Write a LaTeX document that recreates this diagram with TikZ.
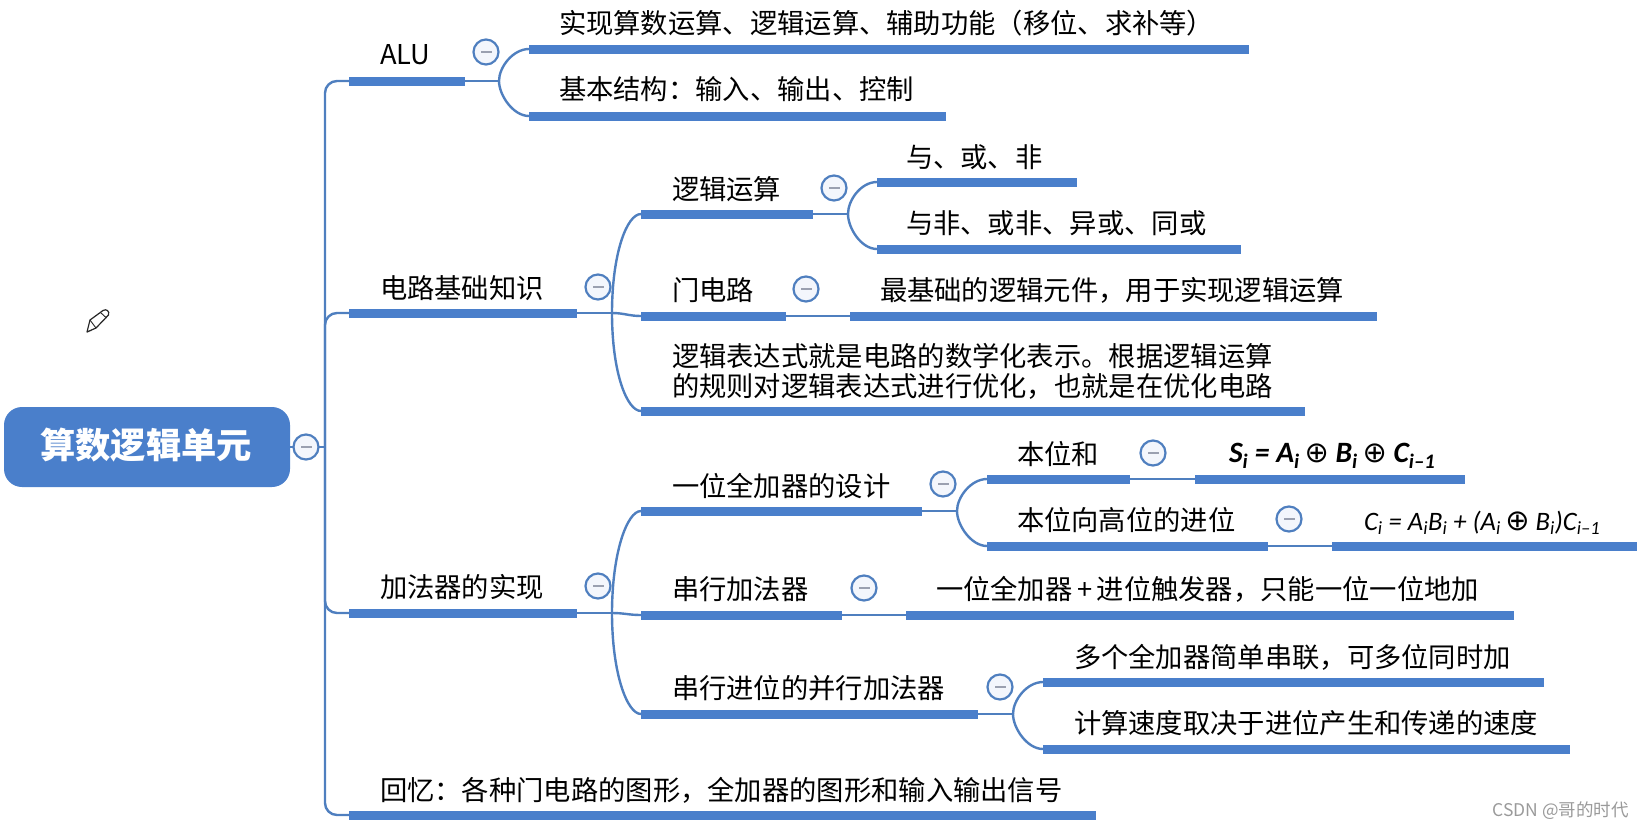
\documentclass[tikz,border=0pt]{standalone}
\usepackage{fontspec}
\setmainfont{Noto Sans CJK SC}
\newfontfamily\formfont{Carlito}
\newfontfamily\symfont{DejaVu Sans}
\usetikzlibrary{calc}
\definecolor{mapblue}{HTML}{4A7FCB}
\definecolor{linkblue}{HTML}{4F7FBF}
\definecolor{dashgray}{HTML}{9AA0B0}
\definecolor{markgray}{HTML}{9A9A9A}
\definecolor{foldfill}{HTML}{F3F6FC}
\tikzset{
  barline/.style={fill=mapblue,draw=none,minimum height=9pt,inner sep=0pt,outer sep=0pt,anchor=west,rectangle},
  label/.style={anchor=west,inner sep=0pt,outer sep=0pt,xshift=-1pt,yshift=-7.4pt,font=\fontsize{27.3pt}{30pt}\selectfont,text=black,text height=.88em,text depth=.12em},
  conn/.style={draw=linkblue,line width=2.4pt},
  fold/.style={circle,draw=linkblue,line width=2.2pt,fill=foldfill,minimum size=25pt,inner sep=0pt,
    path picture={\fill[dashgray] ($(path picture bounding box.center)+(-5.5pt,-1.4pt)$) rectangle ($(path picture bounding box.center)+(5.5pt,1.4pt)$);}},
}
% \topic{name}{x left}{x right}{bar y}{text x}{text y}{text}
\newcommand{\topic}[7]{%
  \node[barline,minimum width={(#3-#2)*1pt}] (#1) at (#2,#4) {};
  \node[label] (#1-t) at (#5,#6) {#7};}
\newcommand{\fm}[1]{{\symfont\mdseries\fontsize{29pt}{24pt}\selectfont #1}}
\begin{document}
\begin{tikzpicture}[x=1pt,y=-1pt]
\useasboundingbox (0,0) rectangle (1644,828);

% root
\node[rectangle,rounded corners=18pt,fill=mapblue,minimum width=286pt,minimum height=80pt,inner sep=0pt,outer sep=0pt] (root) at (147,447) {};
\node[inner sep=0pt,text=white,font=\fontsize{35.3pt}{40pt}\selectfont\bfseries,text height=.88em,text depth=.12em] (root-t) at (146,455) {算数逻辑单元};

% level one
\topic{alu}{349}{465}{81}{381}{53}{ALU}
\topic{circ}{349}{577}{313}{381}{287}{电路基础知识}
\topic{add}{349}{577}{613}{381}{586}{加法器的实现}
\topic{recall}{349}{1096}{815}{381}{789}{回忆：各种门电路的图形，全加器的图形和输入输出信号}

% ALU children
\topic{alua}{529}{1249}{49}{560}{22}{实现算数运算、逻辑运算、辅助功能（移位、求补等）}
\topic{alub}{529}{946}{116}{560}{88}{基本结构：输入、输出、控制}

% circuit children
\topic{logic}{641}{813}{214}{673}{188}{逻辑运算}
\topic{loga}{877}{1077}{182}{907}{156}{与、或、非}
\topic{logb}{877}{1241}{249}{907}{222}{与非、或非、异或、同或}
\topic{gate}{641}{786}{316}{673}{289}{门电路}
\topic{gatea}{850}{1377}{316}{881}{289}{最基础的逻辑元件，用于实现逻辑运算}
\node[barline,minimum width=664pt] (expr) at (641,411) {};
\node[label,text height=,text depth=,align=left,yshift=7.4pt,font=\fontsize{27.3pt}{30pt}\selectfont] (expr-t) at (673,371) {逻辑表达式就是电路的数学化表示。根据逻辑运算\\的规则对逻辑表达式进行优化，也就是在优化电路};

% adder children
\topic{one}{641}{922}{511}{673}{485}{一位全加器的设计}
\topic{sum}{987}{1130}{479}{1018}{453}{本位和}
\topic{suma}{1195}{1465}{479}{1230}{451}{{\formfont\itshape\bfseries\fontsize{29.5pt}{30pt}\selectfont S\textsubscript{i} = A\textsubscript{i}\,\fm{⊕} B\textsubscript{i}\,\fm{⊕} C\textsubscript{i–1}}}
\topic{carry}{987}{1268}{546}{1018}{519}{本位向高位的进位}
\topic{carrya}{1332}{1637}{546}{1365}{519}{{\formfont\itshape\fontsize{26.6pt}{30pt}\selectfont C\textsubscript{i} = A\textsubscript{i}B\textsubscript{i} + (A\textsubscript{i}\,\fm{⊕} B\textsubscript{i})C\textsubscript{i–1}}}
\topic{ser}{641}{842}{615}{673}{588}{串行加法器}
\topic{sera}{906}{1514}{615}{937}{588}{一位全加器\,+\,进位触发器，只能一位一位地加}
\topic{par}{641}{978}{714}{673}{687}{串行进位的并行加法器}
\topic{para}{1043}{1544}{682}{1075}{656}{多个全加器简单串联，可多位同时加}
\topic{parb}{1043}{1570}{749}{1075}{722}{计算速度取决于进位产生和传递的速度}

% junctions
\coordinate (hroot) at (325,447);
\coordinate (halu) at (499,81);
\coordinate (hcirc) at (612,313);
\coordinate (hlogic) at (848,214);
\coordinate (hadd) at (612,613);
\coordinate (hone) at (957,511);
\coordinate (hpar) at (1013,714);

% connectors
\draw[conn] (root.east) -- (hroot);
\draw[conn,rounded corners=12pt] (hroot) |- (alu.west);
\draw[conn,rounded corners=12pt] (hroot) |- (circ.west);
\draw[conn,rounded corners=12pt] (hroot) |- (add.west);
\draw[conn,rounded corners=12pt] (hroot) |- (recall.west);

\draw[conn] (alu.east) -- (halu);
\draw[conn] (halu) to[out=90,in=180,out distance=14pt,in distance=16pt] (alua.west);
\draw[conn] (halu) to[out=-90,in=180,out distance=14pt,in distance=16pt] (alub.west);

\draw[conn] (circ.east) -- (hcirc);
\draw[conn] (hcirc) to[out=90,in=180,out distance=60pt,in distance=14pt] (logic.west);
\draw[conn] (hcirc) to[out=0,in=180,out distance=12pt,in distance=12pt] (gate.west);
\draw[conn] (hcirc) to[out=-90,in=180,out distance=60pt,in distance=14pt] (expr.west);

\draw[conn] (logic.east) -- (hlogic);
\draw[conn] (hlogic) to[out=90,in=180,out distance=14pt,in distance=16pt] (loga.west);
\draw[conn] (hlogic) to[out=-90,in=180,out distance=14pt,in distance=16pt] (logb.west);
\draw[conn] (gate.east) -- (gatea.west);

\draw[conn] (add.east) -- (hadd);
\draw[conn] (hadd) to[out=90,in=180,out distance=60pt,in distance=14pt] (one.west);
\draw[conn] (hadd) to[out=0,in=180,out distance=12pt,in distance=12pt] (ser.west);
\draw[conn] (hadd) to[out=-90,in=180,out distance=60pt,in distance=14pt] (par.west);

\draw[conn] (one.east) -- (hone);
\draw[conn] (hone) to[out=90,in=180,out distance=14pt,in distance=16pt] (sum.west);
\draw[conn] (hone) to[out=-90,in=180,out distance=14pt,in distance=16pt] (carry.west);
\draw[conn] (sum.east) -- (suma.west);
\draw[conn] (carry.east) -- (carrya.west);
\draw[conn] (ser.east) -- (sera.west);
\draw[conn] (par.east) -- (hpar);
\draw[conn] (hpar) to[out=90,in=180,out distance=14pt,in distance=16pt] (para.west);
\draw[conn] (hpar) to[out=-90,in=180,out distance=14pt,in distance=16pt] (parb.west);

% fold markers
\node[fold] (f-root) at (306,447) {};
\node[fold] (f-alu) at (486,52) {};
\node[fold] (f-circ) at (598,287) {};
\node[fold] (f-add) at (598,586) {};
\node[fold] (f-logic) at (834,188) {};
\node[fold] (f-gate) at (806,289) {};
\node[fold] (f-one) at (943,484) {};
\node[fold] (f-sum) at (1153,453) {};
\node[fold] (f-carry) at (1289,519) {};
\node[fold] (f-ser) at (864,588) {};
\node[fold] (f-par) at (1000,687) {};

% pencil
\fill[black!12] (87,333) -- (92,331) -- (88,327) -- cycle;
\draw[black!85,line width=1.2pt,fill=white,line join=round] (87,332) -- (90,320) -- (103,310.5) .. controls (106,308.5) and (110,311) .. (108.5,315) -- (96,328) -- cycle;
\draw[black!85,line width=.9pt] (90,320) -- (96,328);
\draw[black!85,line width=.9pt] (100.5,312.5) -- (106.5,318);

% watermark
\node[anchor=east,inner sep=0pt,text=markgray,font=\fontsize{17.5pt}{20pt}\selectfont] (mark) at (1629,811) {CSDN @哥的时代};
\end{tikzpicture}
\end{document}
